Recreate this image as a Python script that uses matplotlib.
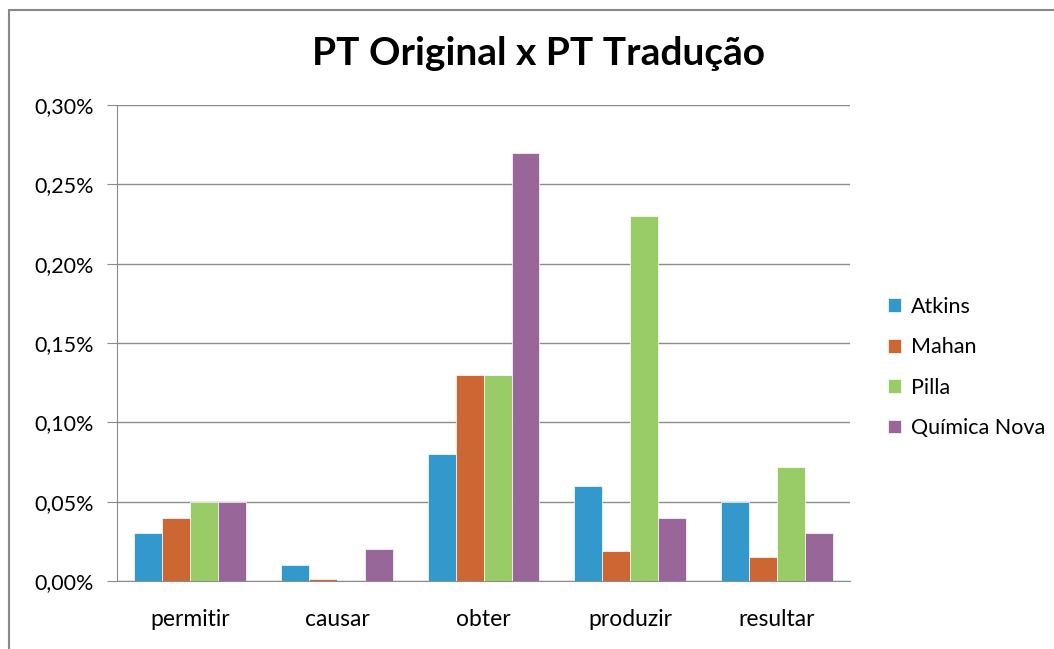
import numpy as np
import matplotlib.pyplot as plt
from matplotlib.patches import Rectangle
from matplotlib.ticker import FuncFormatter

# ------------------------------------------------
# Data (percent values)
# ------------------------------------------------
categories = ["permitir", "causar", "obter", "produzir", "resultar"]
series_names = ["Atkins", "Mahan", "Pilla", "Química Nova"]
atkins = [0.030, 0.010, 0.080, 0.060, 0.050]
mahan = [0.040, 0.001, 0.130, 0.019, 0.015]
pilla = [0.050, 0.000, 0.130, 0.230, 0.072]
quimica_nova = [0.050, 0.020, 0.270, 0.040, 0.030]
colors = ["#3399CC", "#CC6633", "#99CC66", "#996699"]

plt.rcParams['font.family'] = ['Lato', 'DejaVu Sans']

fig = plt.figure(figsize=(10.54, 6.49), dpi=100)
ax = fig.add_axes([0.111, 0.1048, 0.6955, 0.7332])

# outer chart frame
fig.patches.append(Rectangle((9 / 1054, -0.1), 1.2, 1 - 10 / 649 + 0.1,
                             transform=fig.transFigure, fill=False,
                             edgecolor="#888888", linewidth=1.5))

x = np.arange(len(categories))
gap = 1.24
width = 1 / (4 + gap)
all_series = [atkins, mahan, pilla, quimica_nova]
for i, (vals, name, c) in enumerate(zip(all_series, series_names, colors)):
    offset = (i - 1.5) * width
    ax.bar(x + offset, vals, width, color=c, label=name,
           edgecolor="white", linewidth=0.5, zorder=3)

ax.set_xlim(-0.5, len(categories) - 0.5)
ax.set_ylim(0, 0.30)
ax.set_yticks(np.arange(0, 0.301, 0.05))
ax.yaxis.set_major_formatter(FuncFormatter(lambda v, p: f"{v:.2f}%".replace(".", ",")))
ax.set_xticks(x)
ax.set_xticklabels(categories)
ax.grid(axis="y", color="#8C8C8C", linewidth=1, zorder=0)

for s in ["top", "right"]:
    ax.spines[s].set_visible(False)
for s in ["left", "bottom"]:
    ax.spines[s].set_color("#8C8C8C")
ax.tick_params(axis="y", length=7, color="#8C8C8C", labelsize=15.5, pad=10)
ax.tick_params(axis="x", length=0, labelsize=16.5, pad=20)

fig.text(0.511, 0.918, "PT Original x PT Tradução", ha="center", va="center",
         fontsize=28, fontweight="bold")

fig.legend(loc="center left", bbox_to_anchor=(0.8245, 0.4337), frameon=False,
           fontsize=15.5, handlelength=0.6, handleheight=0.6, handletextpad=0.45,
           labelspacing=0.95)

fig.savefig("out.png", dpi=100)
